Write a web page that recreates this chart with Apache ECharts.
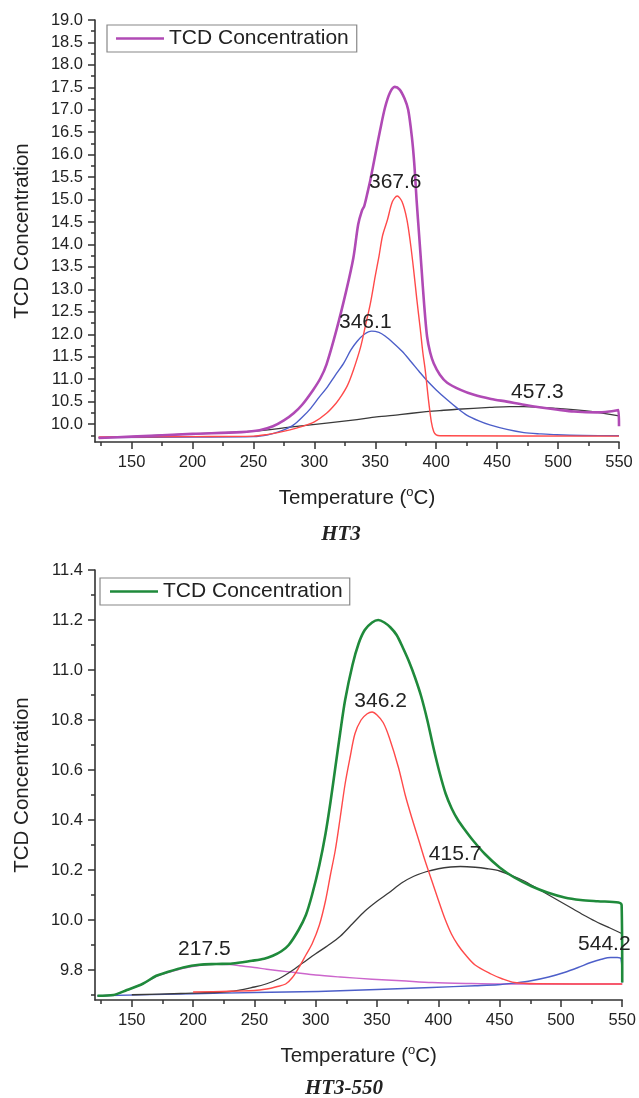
<!DOCTYPE html>
<html><head><meta charset="utf-8">
<script src="https://cdn.jsdelivr.net/npm/echarts@6/dist/echarts.min.js"></script>
<style>html,body{margin:0;padding:0;background:#fff}#c{width:639px;height:1098px}</style>
</head><body><div id="c"></div>
<script>
// ---------- DATA ----------
const xMajor = [150,200,250,300,350,400,450,500,550];
const xMinor = [125,175,225,275,325,375,425,475,525];
const yMajorTop = [10,10.5,11,11.5,12,12.5,13,13.5,14,14.5,15,15.5,16,16.5,17,17.5,18,18.5,19];
const yMinorTop = [9.75,10.25,10.75,11.25,11.75,12.25,12.75,13.25,13.75,14.25,14.75,15.25,15.75,16.25,16.75,17.25,17.75,18.25,18.75];
const yMajorBot = [9.8,10.0,10.2,10.4,10.6,10.8,11.0,11.2,11.4];
const yMinorBot = [9.7,9.9,10.1,10.3,10.5,10.7,10.9,11.1,11.3];

// HT3 (top)
const ht3Total = [[123,9.69],[150,9.72],[200,9.78],[240,9.82],[255,9.86],[266,9.95],[275,10.08],[283,10.24],[290,10.43],[299,10.76],[305,11.02],[310,11.33],[318,12.08],[326,12.95],[332,13.7],[336,14.45],[339,14.75],[341,14.86],[344,15.2],[346,15.44],[350,16.0],[354,16.55],[358,17.05],[362,17.38],[366,17.51],[370,17.45],[374,17.25],[377,17.0],[380,16.4],[382,15.8],[384,14.95],[386,14.2],[388,13.45],[390,12.7],[392.5,11.95],[395,11.6],[398,11.35],[403,11.1],[409,10.92],[420,10.76],[431,10.65],[445,10.56],[458,10.5],[472,10.43],[486,10.37],[500,10.32],[513,10.28],[532,10.26],[542,10.28],[549.5,10.31],[550,9.95]];
const ht3Red = [[123,9.71],[200,9.72],[250,9.73],[262,9.77],[270,9.81],[280,9.87],[288,9.93],[300,10.05],[310,10.24],[318,10.47],[322,10.62],[327,10.85],[332,11.2],[338,11.72],[342,12.2],[346,12.69],[350,13.3],[353,13.73],[356,14.2],[360,14.55],[364,14.95],[368,15.08],[372,14.95],[376,14.55],[379,14.0],[381.5,13.43],[384,12.8],[387,12.1],[389,11.6],[391,11.2],[393,10.7],[394,10.46],[396,10.05],[398,9.83],[400,9.76],[403,9.74],[550,9.73]];
const ht3Blue = [[123,9.7],[200,9.71],[250,9.72],[262,9.76],[270,9.82],[276,9.88],[283,9.98],[290,10.15],[297,10.35],[304,10.6],[310,10.8],[317,11.08],[324,11.35],[330,11.65],[335,11.84],[341,12.0],[347,12.07],[353,12.04],[358,11.96],[365,11.8],[372,11.62],[379,11.4],[386,11.17],[392,10.98],[400,10.76],[409,10.54],[417,10.36],[425,10.2],[435,10.07],[444,9.98],[458,9.88],[472,9.81],[486,9.78],[499,9.76],[520,9.745],[550,9.74]];
const ht3Black = [[123,9.69],[150,9.72],[200,9.78],[250,9.84],[280,9.93],[310,10.02],[335,10.1],[351,10.16],[370,10.21],[390,10.27],[403,10.3],[417,10.33],[444,10.37],[460,10.39],[472,10.39],[499,10.35],[527,10.28],[550,10.18]];
const ht3Labels = [[366.4,15.39,'367.6'],[341.8,12.27,'346.1'],[483,10.71,'457.3']];

// HT3-550 (bottom)
const ht550Total = [[122,9.697],[135,9.70],[146,9.72],[159,9.745],[170,9.777],[178,9.79],[192,9.81],[205,9.821],[219,9.824],[232,9.826],[248,9.837],[258,9.845],[265,9.857],[272,9.875],[278,9.9],[286,9.96],[292,10.02],[297,10.1],[303,10.22],[308,10.345],[312,10.47],[316,10.61],[320,10.75],[324,10.88],[330,11.02],[335,11.106],[340,11.16],[346,11.19],[351,11.2],[356,11.19],[361,11.17],[366,11.14],[371,11.09],[376,11.035],[381,10.97],[386,10.895],[391,10.8],[396,10.69],[401,10.59],[406,10.505],[411,10.445],[416,10.4],[421,10.365],[428,10.32],[438,10.264],[450,10.21],[462,10.17],[476,10.135],[489,10.11],[503,10.09],[516,10.08],[530,10.075],[547,10.07],[549.5,10.06],[550,9.75]];
const ht550Red = [[200,9.712],[250,9.718],[260,9.724],[268,9.733],[275.5,9.744],[281,9.77],[286.3,9.81],[292,9.86],[297,9.904],[303,9.98],[308,10.077],[312,10.18],[316,10.28],[320,10.41],[324,10.545],[328,10.65],[332,10.745],[337,10.8],[342,10.825],[346,10.832],[350,10.82],[355,10.79],[360,10.73],[367.5,10.61],[373,10.5],[378.3,10.41],[384,10.32],[389,10.24],[394.5,10.16],[400,10.08],[405,10.01],[410.7,9.944],[416,9.9],[421.6,9.864],[430,9.82],[443,9.784],[452,9.765],[462,9.75],[480,9.745],[550,9.744]];
const ht550Black = [[150,9.701],[190,9.706],[230,9.714],[250,9.732],[260,9.745],[270,9.765],[280,9.795],[290,9.83],[300,9.865],[310,9.898],[320,9.935],[330,9.985],[340,10.035],[350,10.075],[360,10.11],[370,10.148],[380,10.175],[390,10.193],[400,10.205],[410,10.212],[418,10.214],[430,10.211],[440,10.205],[450,10.196],[460,10.178],[470,10.156],[480,10.128],[490,10.1],[500,10.072],[510,10.044],[520,10.016],[530,9.99],[540,9.968],[550,9.945]];
const ht550Pink = [[122,9.697],[135,9.70],[146,9.72],[159,9.745],[170,9.775],[178,9.788],[192,9.807],[205,9.818],[218,9.823],[230,9.822],[238,9.817],[250,9.81],[260,9.803],[270,9.797],[283,9.79],[300,9.78],[320,9.772],[346,9.763],[370,9.757],[395,9.75],[425,9.746],[450,9.744],[550,9.744]];
const ht550Blue = [[122,9.697],[200,9.705],[250,9.71],[302,9.714],[350,9.722],[394.5,9.73],[430,9.737],[448.6,9.741],[462,9.748],[475.6,9.757],[490,9.772],[502.7,9.79],[514,9.81],[524.3,9.83],[533,9.843],[540.5,9.85],[546,9.85],[549,9.845],[550,9.75]];
const ht550Labels = [[352.9,10.875,'346.2'],[209.2,9.885,'217.5'],[413.7,10.262,'415.7'],[535.4,9.905,'544.2']];

// ---------- STYLE ----------
const FONT = '"Liberation Sans", Arial, sans-serif';
const INK = '#222';
const AX = '#333';
const C = {purple:'#b04ab5', green:'#1f8a3b', red:'#ff4a4a', blue:'#4d5fc9', black:'#3a3a3a', pink:'#cc66cc'};

function mainX(g){
  return {type:'value', gridIndex:g, min:120, max:550,
    axisLine:{show:true, onZero:false, lineStyle:{color:AX, width:1.6}},
    axisTick:{show:true, customValues:xMajor, length:7, lineStyle:{color:AX, width:1.5}},
    axisLabel:{customValues:xMajor, fontSize:16.5, margin:12, color:INK, fontFamily:FONT},
    splitLine:{show:false},
    name:'{a|Temperature (}{s|o}{a|C)}', nameLocation:'middle', nameGap:44,
    nameTextStyle:{rich:{a:{fontSize:20.5, lineHeight:24, color:INK, fontFamily:FONT},
                         s:{fontSize:13, lineHeight:14, verticalAlign:'top', color:INK, fontFamily:FONT}}}};
}
function minorX(g){
  return {type:'value', gridIndex:g, min:120, max:550, position:'bottom', offset:0,
    axisLine:{show:false}, axisLabel:{show:false}, splitLine:{show:false},
    axisTick:{show:true, customValues:xMinor, length:4, lineStyle:{color:AX, width:1.5}}};
}
function mainY(g, min, max, major){
  return {type:'value', gridIndex:g, min, max, position:'left',
    axisLine:{show:true, onZero:false, lineStyle:{color:AX, width:1.6}},
    axisTick:{show:true, customValues:major, length:7, lineStyle:{color:AX, width:1.5}},
    axisLabel:{customValues:major, fontSize:16.5, margin:12, color:INK, fontFamily:FONT, formatter:v=>Number(v).toFixed(1)},
    splitLine:{show:false},
    name:'TCD Concentration', nameLocation:'middle', nameRotate:90, nameGap:62,
    nameTextStyle:{fontSize:20.5, color:INK, fontFamily:FONT}};
}
function minorY(g, min, max, minor){
  return {type:'value', gridIndex:g, min, max, position:'left', offset:0,
    axisLine:{show:false}, axisLabel:{show:false}, splitLine:{show:false},
    axisTick:{show:true, customValues:minor, length:4, lineStyle:{color:AX, width:1.5}}};
}
function line(name, data, color, idx, width){
  return {name, type:'line', xAxisIndex:idx, yAxisIndex:idx, data, symbol:'none', showSymbol:false,
    smooth:0.3, lineStyle:{color, width, join:'round'}, itemStyle:{color}, silent:true, z:2};
}
function labels(data, idx){
  return {name:'labels'+idx, type:'scatter', xAxisIndex:idx, yAxisIndex:idx, data, symbolSize:2,
    itemStyle:{color:'rgba(0,0,0,0)'}, silent:true, z:5,
    label:{show:true, position:'inside', formatter:p=>p.data[2], fontSize:21, color:INK, fontFamily:FONT, opacity:1}};
}
function legend(left, top, color, pad){
  return {left, top, orient:'horizontal', padding:pad, itemWidth:48, itemHeight:2.5, icon:'rect',
    borderColor:'#888', borderWidth:1.2, backgroundColor:'#fff', selectedMode:false,
    textStyle:{fontSize:21, color:INK, fontFamily:FONT},
    data:[{name:'TCD Concentration', icon:'rect', itemStyle:{color}}]};
}

const option = {
  animation:false,
  backgroundColor:'#fff',
  grid:[{left:95, top:20, width:524, height:422}, {left:95, top:570, width:530, height:430}],
  xAxis:[mainX(0), minorX(0), mainX(1), minorX(1)],
  yAxis:[mainY(0,9.6,19,yMajorTop), minorY(0,9.6,19,yMinorTop), mainY(1,9.68,11.4,yMajorBot), minorY(1,9.68,11.4,yMinorBot)],
  legend:[legend(107,25,C.purple,[3,8,3,9]), legend(100,578,C.green,[3,7,3,10])],
  series:[
    line('Peak 457.3', ht3Black, C.black, 0, 1.3),
    line('Peak 346.1', ht3Blue, C.blue, 0, 1.4),
    line('Peak 367.6', ht3Red, C.red, 0, 1.4),
    {...line('TCD Concentration', ht3Total, C.purple, 0, 2.6), z:3},
    labels(ht3Labels, 0),
    line('Peak 217.5', ht550Pink, C.pink, 2, 1.4),
    line('Peak 544.2', ht550Blue, C.blue, 2, 1.4),
    line('Peak 415.7', ht550Black, C.black, 2, 1.3),
    line('Peak 346.2', ht550Red, C.red, 2, 1.4),
    {...line('TCD Concentration', ht550Total, C.green, 2, 2.6), z:3},
    labels(ht550Labels, 2)
  ],
  graphic:[
    {type:'text', x:341, y:535, style:{text:'HT3', fill:INK, font:'italic bold 21px "Liberation Serif", "Times New Roman", serif', textAlign:'center', textVerticalAlign:'middle'}},
    {type:'text', x:344, y:1089, style:{text:'HT3-550', fill:INK, font:'italic bold 21px "Liberation Serif", "Times New Roman", serif', textAlign:'center', textVerticalAlign:'middle'}}
  ]
};
const chart = echarts.init(document.getElementById('c'), null, {renderer:'canvas'});
chart.setOption(option);
</script>
</body></html>
